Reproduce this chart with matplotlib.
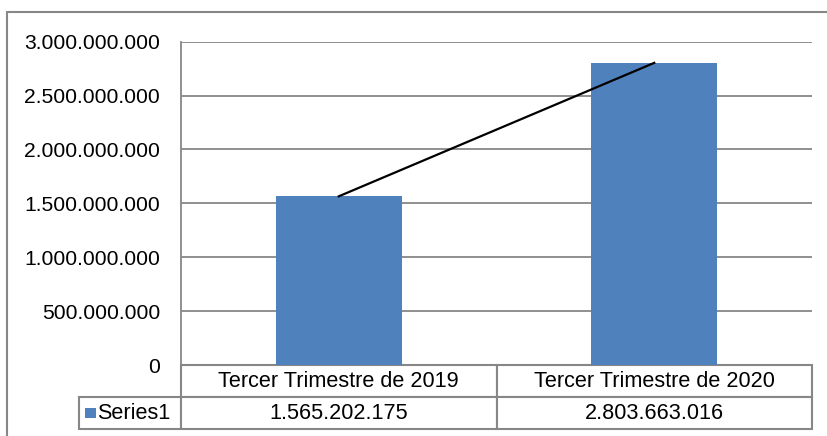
import matplotlib
matplotlib.use('Agg')
import matplotlib.pyplot as plt
from matplotlib.patches import Rectangle
from matplotlib.ticker import FuncFormatter, MultipleLocator

plt.rcParams['font.family'] = ['Liberation Sans', 'DejaVu Sans']

categories = ['Tercer Trimestre de 2019', 'Tercer Trimestre de 2020']
series_name = 'Series1'
values = [1565202175, 2803663016]

bar_color = '#4F81BD'
grid_color = '#878787'


def miles(v):
    return f'{int(round(v)):,}'.replace(',', '.')


W, H = 827, 436
fig = plt.figure(figsize=(W / 100, H / 100), dpi=100)
# plot area in pixels: x 181..812, y 41.7..365
ax = fig.add_axes([181 / W, (H - 365) / H, 631 / W, 323.3 / H])

x = list(range(len(categories)))
ax.bar(x, values, width=0.4, color=bar_color, zorder=2)
ax.plot(x, values, color='black', lw=1.6, zorder=3)

ax.set_xlim(-0.5, len(categories) - 0.5)
ax.set_ylim(0, 3e9)
ax.yaxis.set_major_locator(MultipleLocator(5e8))
ax.yaxis.set_major_formatter(FuncFormatter(lambda v, p: miles(v)))
ax.set_xticks([])
ax.tick_params(axis='y', length=0, pad=15, labelsize=15.2)
ax.set_axisbelow(True)
ax.grid(axis='y', color=grid_color, lw=1.3)
for s in ['top', 'right', 'bottom']:
    ax.spines[s].set_visible(False)
ax.spines['left'].set_color(grid_color)
ax.spines['left'].set_linewidth(1.3)

# data table under the axis (bbox covers only the data columns)
axh = 323.3
lab_w = 102 / 631
tbl = ax.table(cellText=[[miles(v) for v in values]],
               colLabels=categories, cellLoc='center', colLoc='center',
               colWidths=[0.5] * len(categories),
               bbox=[0, -64 / axh, 1, 64 / axh])
tbl.add_cell(1, -1, width=lab_w, height=tbl[1, 0].get_height(),
             text=series_name, loc='right')
tbl.auto_set_font_size(False)
tbl.set_fontsize(15.6)
for cell in tbl.get_celld().values():
    cell.set_edgecolor(grid_color)
    cell.set_linewidth(1.5)

# legend key in the row label cell
ax.add_patch(Rectangle(((85 - 181) / 631, (365 - 418) / axh), 11 / 631, 10 / axh,
                       transform=ax.transAxes, clip_on=False,
                       facecolor=bar_color, edgecolor='none'))

# chart area border (partly cropped)
fig.add_artist(Rectangle((6.5 / W, -0.1), 1.0, (H - 12) / H + 0.1,
                         transform=fig.transFigure, fill=False,
                         edgecolor=grid_color, lw=1.5))

fig.savefig('out.png', dpi=100)
